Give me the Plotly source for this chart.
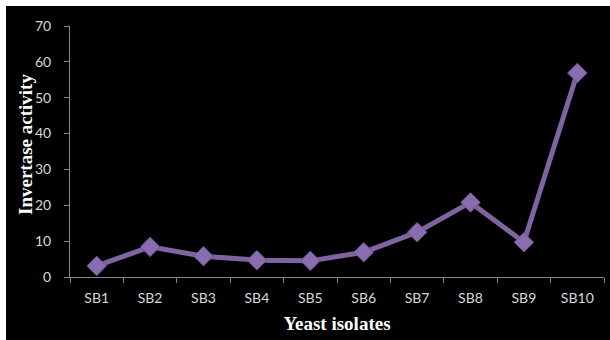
import plotly.graph_objects as go

# Invertase activity of yeast isolates
isolates = ["SB1", "SB2", "SB3", "SB4", "SB5", "SB6", "SB7", "SB8", "SB9", "SB10"]
activity = [3.1, 8.4, 5.8, 4.7, 4.5, 6.9, 12.5, 20.8, 9.7, 56.9]
y_ticks = [0, 10, 20, 30, 40, 50, 60, 70]

W, H = 610, 340
ML, MR, MT, MB = 70, 6, 26, 63
pw, ph = W - ML - MR, H - MT - MB

fig = go.Figure()
fig.add_trace(go.Scatter(
    x=isolates, y=activity, mode="lines+markers",
    line=dict(color="#8064A2", width=5),
    marker=dict(symbol="diamond", size=15, color="#8a6cb0",
                line=dict(color="#6e528f", width=1)),
    showlegend=False, hoverinfo="skip",
))

# black panel leaving a thin white strip along the top and left edges
fig.add_shape(type="rect", xref="paper", yref="paper", layer="below",
              x0=(6 - ML) / pw, x1=(W - ML) / pw,
              y0=-(H - MT - ph) / ph, y1=(H - MB - 6) / ph,
              fillcolor="black", line=dict(width=0))

tick_font = dict(family="Lato, Open Sans, sans-serif", size=14, color="#d9d9d9")
title_font = dict(family="Liberation Serif, Times New Roman, serif", size=19, color="white")

# vertical axis title placed close to the tick labels
fig.add_annotation(text="<b>Invertase activity</b>", textangle=-90,
                   xref="paper", yref="paper", x=(25 - ML) / pw, y=(H - MB - 145) / ph,
                   xanchor="center", yanchor="middle", showarrow=False, font=title_font)

fig.update_layout(
    width=W, height=H,
    margin=dict(l=ML, r=MR, t=MT, b=MB),
    paper_bgcolor="white", plot_bgcolor="black",
    xaxis=dict(
        type="category", range=[-0.5, 9.5], tickson="boundaries",
        ticks="outside", ticklen=5, tickcolor="#868686",
        showline=True, linecolor="#868686", linewidth=1,
        showgrid=False, zeroline=False, tickfont=tick_font,
        ticklabelstandoff=8,
        title=dict(text="<b>Yeast isolates</b>", font=title_font, standoff=11),
    ),
    yaxis=dict(
        range=[0, 70], tickvals=y_ticks,
        ticks="outside", ticklen=5, tickcolor="#868686",
        showline=True, linecolor="#868686", linewidth=1,
        showgrid=False, zeroline=False, tickfont=tick_font,
        ticklabelstandoff=10,
    ),
)

fig.write_html("out.html")
